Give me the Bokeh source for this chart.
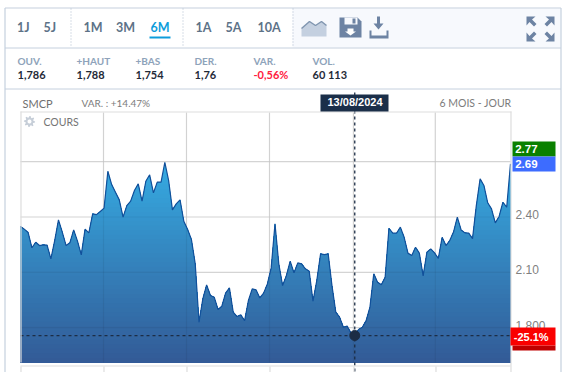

from bokeh.plotting import figure
from bokeh.embed import file_html
from bokeh.resources import INLINE
from bokeh.models import Range1d, FixedTicker, LinearAxis
from bokeh.core.properties import value
import numpy as np

# ---- data -----------------------------------------------------------
prices = [2.348,2.334,2.316,2.233,2.263,2.245,2.249,2.247,2.173,2.272,2.384,2.318,2.245,2.260,2.330,2.269,2.195,2.334,2.314,2.417,
2.413,2.430,2.448,2.648,2.576,2.534,2.493,2.399,2.462,2.486,2.544,2.580,2.486,2.594,2.629,2.531,2.589,2.589,2.697,2.598,
2.439,2.471,2.493,2.377,2.332,2.278,2.146,1.829,1.956,2.032,1.974,1.965,1.898,1.916,1.987,2.016,1.884,1.860,1.869,1.838,
1.947,2.010,2.005,1.961,1.987,2.037,2.124,2.363,2.146,2.028,2.082,2.160,2.097,2.151,2.146,2.119,2.106,1.943,2.055,2.200,
2.196,2.200,2.028,1.884,1.857,1.802,1.808,1.770,1.757,1.790,1.802,1.838,1.911,2.092,2.046,2.032,2.073,2.339,2.312,2.312,
2.345,2.290,2.204,2.191,2.236,2.204,2.081,2.209,2.227,2.205,2.175,2.290,2.245,2.272,2.318,2.399,2.330,2.314,2.312,2.283,
2.462,2.607,2.571,2.477,2.444,2.368,2.403,2.480,2.453,2.688]
cursor_index = 88
y_ticks = [2.40, 2.10, 1.80]
y_labels = ["2.40", "2.10", "1.800"]
grid_y = [2.70, 2.40, 2.10, 1.80]
grid_x = [21.85, 43.7, 65.55, 87.65, 109.2]
range_buttons = [("1J",16.5,False),("5J",43,False),("1M",83,False),("3M",115.5,False),("6M",150,True),("1A",195,False),("5A",225,False),("10A",257,False)]
quote_heads = ["OUV.","+HAUT","+BAS","DER.","VAR.","VOL."]
quote_values = ["1,786","1,788","1,754","1,76","-0,56%","60 113"]
quote_x = [17,76,135,194,253,312]

W, H = 566, 372
L, R, T, B = 20, 510, 112, 362
xs = np.arange(len(prices))
k = (len(prices) - 1) / (R - L)
py = 0.3 / 55.3
price_at = lambda y: 2.40 + (216.5 - y) * py

p = figure(width=W, height=H, output_backend="svg", toolbar_location=None,
           x_range=Range1d(0, W), y_range=Range1d(H, 0),
           min_border_left=0, min_border_right=0, min_border_top=0, min_border_bottom=0,
           x_axis_location=None, y_axis_location=None, margin=(0, 0, 0, 0))
p.extra_x_ranges = {"idx": Range1d(-L * k, (W - L) * k)}
p.extra_y_ranges = {"price": Range1d(price_at(H), price_at(0)),
                    "labels": Range1d(price_at(H + 2.5), price_at(2.5))}
p.outline_line_color = None
p.xgrid.visible = False; p.ygrid.visible = False
p.background_fill_color = "white"
p.border_fill_color = "white"
D = dict(x_range_name="idx", y_range_name="price")

TOP = "annotation"
def box(l, r, t, b, fill, level="glyph"):
    p.quad(left=[l], right=[r], top=[t], bottom=[b], fill_color=fill, line_color=None, level=level)
def seg(x0, y0, x1, y1, color, lw=1, dash="solid", alpha=1, level="glyph"):
    p.segment([x0], [y0], [x1], [y1], line_color=color, line_width=lw, line_dash=dash, line_alpha=alpha, level=level)
def txt(x, y, s, size=11, color="#333", font="Lato", style="normal", align="left", level=TOP):
    p.text([x], [y], text=[s], text_font=value(font), text_font_size=f"{size}px", text_color=color,
           text_font_style=style, text_align=align, text_baseline="middle", level=level)
def poly(xx, yy, fill, level=TOP):
    p.patch(list(xx), list(yy), fill_color=fill, line_color=None, level=level)

# grid behind the area, on the white part
for r in grid_x:
    p.segment([r], [T], [r], [B], line_color="#e0e0e0", line_width=1.2, x_range_name="idx")
for r in grid_y:
    p.segment([L], [r], [R], [r], line_color="#e0e0e0", line_width=1.2, y_range_name="price")

# gradient, painted tallest band first
top_c = np.array([0x36, 0xab, 0xe2]); bot_c = np.array([0x33, 0x5a, 0x96])
arr = np.array(prices)
y_bot = price_at(B)
levels = np.linspace(2.70, y_bot, 45)
for i, lv in enumerate(levels):
    c = top_c + (bot_c - top_c) * i / (len(levels) - 1)
    p.varea(xs, y1=y_bot, y2=np.minimum(arr, lv), fill_color="#%02x%02x%02x" % tuple(int(v) for v in c), **D)

# the grid shows faintly through the area
for r in grid_x:
    p.segment([r], [T], [r], [B], line_color="black", line_alpha=0.06, line_width=1.2, x_range_name="idx")
for r in grid_y:
    p.segment([L], [r], [R], [r], line_color="black", line_alpha=0.05, line_width=1.2, y_range_name="price")
p.line(xs, prices, line_color="#12509a", line_width=1.2, **D)

# value axis
ax = LinearAxis(y_range_name="labels", ticker=FixedTicker(ticks=y_ticks), major_label_overrides=dict(zip(y_ticks, y_labels)),
                axis_line_color=None, major_tick_line_color=None, minor_tick_line_color=None,
                major_tick_out=0, major_tick_in=0, minor_tick_out=0, minor_tick_in=0,
                major_label_text_font="Liberation Sans", major_label_text_font_size="12px",
                major_label_text_color="#7f7f7f", major_label_standoff=5, fixed_location=R)
p.add_layout(ax, "right")

# crosshair on the cursor point
p.segment([cursor_index], [92], [cursor_index], [H], line_color="#1c2d45", line_dash="3 3", line_width=1.3, x_range_name="idx")
p.segment([L], [prices[cursor_index]], [R], [prices[cursor_index]], line_color="#1c2d45", line_dash="3 3", line_width=1.2, y_range_name="price")
p.scatter([cursor_index], [prices[cursor_index]], size=10, fill_color="#1c2d45", line_color="#1c2d45", **D)

# page chrome
BORDER = "#c5d0de"; GRID = "#dddddd"
box(292, 560, 8, 47, "#f7f9fd", level="underlay")
seg(4.5, 7.5, 560.5, 7.5, BORDER, 1.2)
seg(4.5, 7.5, 4.5, H, BORDER, 1.2)
seg(560.5, 7.5, 560.5, H, BORDER, 1.2)
seg(4.5, 47.5, 560.5, 47.5, BORDER)
seg(4.5, 88.5, 560.5, 88.5, BORDER)
for vx in (70.5, 182.5, 292.5):
    seg(vx, 8, vx, 47, "#aebccd", dash="1 2")
seg(L, 111.5, R + 1, 111.5, GRID, 1.2)
seg(R + 0.5, 111, R + 0.5, H, GRID, 1.2)
seg(20.5, 111, 20.5, B, GRID, 1.2)
seg(20, 365.5, R, 365.5, GRID, 1.2)
for gx in (20.5, 103.5, 186.5, 269.5, 353.5, 435.5):
    seg(gx, 366, gx, H, GRID, 1.2)

for s, x, on in range_buttons:
    txt(x, 26.5, s, size=12.5, color="#0e9ddb" if on else "#5d7287", style="bold")
box(149, 170, 36, 38, "#0e9ddb", level=TOP)

for h, x, v in zip(quote_heads, quote_x, quote_values):
    txt(x, 60, h, size=10, color="#8ea3ba", style="bold")
    txt(x, 74, v, size=11, color="#ff2040" if h == "VAR." else "#1f2a38", style="bold")

txt(22, 102.5, "SMCP", size=11, color="#6f6f6f")
txt(81, 102.5, "VAR. : +14.47%", size=10, color="#7c7c7c")
txt(439, 102.5, "6 MOIS - JOUR", size=10.5, color="#7c7c7c")
box(320, 388, 94, 111, "#1b2f49", level=TOP)
txt(354.5, 101.5, "13/08/2024", size=11, color="white", font="Liberation Sans", style="bold", align="center")
txt(43, 121, "COURS", size=10.5, color="#747474")

# value flags
box(512, 555, 141, 156, "#0a8000", level=TOP)
txt(514.7, 148.5, "2.77", size=11.5, color="white", font="Liberation Sans", style="bold")
box(512, 555, 156, 171, "#3d6cff", level=TOP)
txt(514.7, 163.5, "2.69", size=11.5, color="white", font="Liberation Sans", style="bold")
box(512, 555, 345, 350, "#c00000", level=TOP)
box(510, 555, 327, 345, "#fa0000", level=TOP)
txt(513.3, 336, "-25.1%", size=11, color="white", font="Liberation Sans", style="bold")

# gear
a = np.linspace(0, 2 * np.pi, 33)[:-1]
rad = np.where(np.mod(np.arange(32), 4) < 2, 5.6, 4.0)
poly(29 + rad * np.cos(a), 121 + rad * np.sin(a), "#c6ced8")
a2 = np.linspace(0, 2 * np.pi, 16)
poly(29 + 2 * np.cos(a2), 121 + 2 * np.sin(a2), "white")

# toolbar icons
ICON = "#6d83a3"
poly([301,309,315,321,326,326,301], [28,21,25,21,25,36,36], "#c4d0e0")
p.line([301,309,315,321,326], [28,21,25,21,25], line_color="#8096b0", line_width=1.5, level=TOP)
poly([339,357,361,361,339], [17,17,21,37,37], ICON)
poly([344,357,357,344], [17,17,24,24], "#f7f9fd")
poly([352,355,355,352], [18,18,23,23], ICON)
poly([347,353,353,355.5,350,344.5,347], [28,28,31,31,35,31,31], "white")
poly([376.5,379.5,379.5,383,378,373,376.5], [16,16,23,23,29,23,23], ICON)
poly([369,371,371,386,386,388,388,369], [30,30,35,35,30,30,38,38], ICON)
# expand arrows
for sx, sy, ox, oy in [(-1,-1,526,16),(1,-1,554,16),(-1,1,526,41),(1,1,554,41)]:
    poly([ox, ox - sx*9, ox - sx*5.5, ox - sx*10, ox - sx*7.5, ox - sx*3, ox],
         [oy, oy, oy - sy*3, oy - sy*7.5, oy - sy*10, oy - sy*5.5, oy - sy*9], ICON)

html = file_html(p, INLINE)
open("out.html", "w").write(html)
